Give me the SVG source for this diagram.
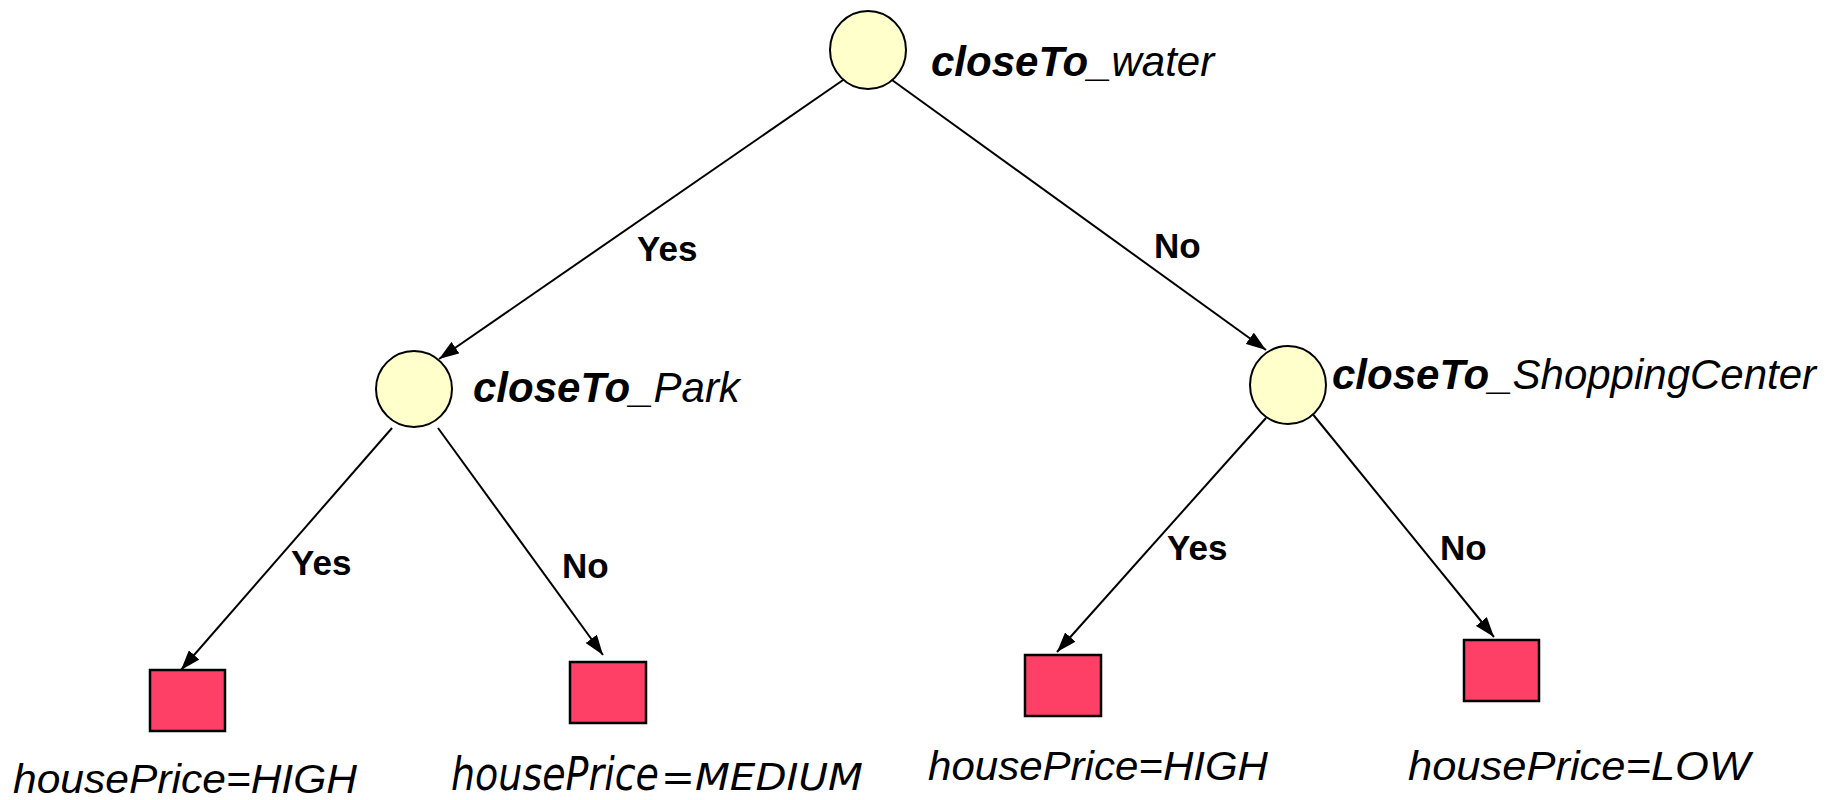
<svg xmlns="http://www.w3.org/2000/svg" width="1847" height="800" viewBox="0 0 1847 800">
  <style>
    .dec { fill: #FFFFCC; stroke: #000; stroke-width: 2; }
    .leaf { fill: #FF4066; stroke: #000; stroke-width: 2.5; }
    .edge { stroke: #000; stroke-width: 2; fill: none; marker-end: url(#arrow); }
    .lbl { font-family: "Liberation Sans", Arial, sans-serif; font-weight: bold; font-size: 35px; fill: #000; }
    .name { font-family: "Liberation Sans", Arial, sans-serif; font-style: italic; font-size: 42px; fill: #000; }
    .name .b { font-weight: bold; }
    .res { font-family: "Liberation Sans", Arial, sans-serif; font-style: italic; font-size: 41px; fill: #000; }
    .res2 { font-family: "DejaVu Sans", sans-serif; font-style: italic; fill: #000; }
  </style>
  <defs>
    <marker id="arrow" viewBox="0 0 20 14" refX="20" refY="7" markerWidth="20" markerHeight="14" markerUnits="userSpaceOnUse" orient="auto">
      <path d="M0,0 L20,7 L0,14 z" fill="#000"/>
    </marker>
  </defs>
  <rect width="1847" height="800" fill="#fff"/>

  <g id="connectors">
    <line class="edge" x1="846" y1="78" x2="439" y2="359"/>
    <line class="edge" x1="892" y1="80" x2="1266" y2="350"/>
    <line class="edge" x1="392" y1="428" x2="181" y2="670"/>
    <line class="edge" x1="438" y1="428" x2="603" y2="655"/>
    <line class="edge" x1="1266" y1="418" x2="1057" y2="652"/>
    <line class="edge" x1="1311" y1="412" x2="1494" y2="637"/>
    <text class="lbl" x="637" y="261">Yes</text>
    <text class="lbl" x="1154" y="258">No</text>
    <text class="lbl" x="291" y="575">Yes</text>
    <text class="lbl" x="562" y="578">No</text>
    <text class="lbl" x="1167" y="560">Yes</text>
    <text class="lbl" x="1440" y="560">No</text>
  </g>

  <g id="node-water">
    <ellipse class="dec" cx="868" cy="50" rx="38" ry="39"/>
    <text class="name" x="931" y="76"><tspan class="b">closeTo</tspan>_water</text>
  </g>
  <g id="node-park">
    <ellipse class="dec" cx="414" cy="389" rx="38" ry="38"/>
    <text class="name" x="473" y="402"><tspan class="b">closeTo</tspan>_Park</text>
  </g>
  <g id="node-shopping">
    <ellipse class="dec" cx="1288" cy="385" rx="38" ry="39"/>
    <text class="name" x="1332" y="389"><tspan class="b">closeTo</tspan>_ShoppingCenter</text>
  </g>

  <g id="leaf-high-1">
    <rect class="leaf" x="150" y="670" width="75" height="61"/>
    <text class="res" x="13" y="793" textLength="344" lengthAdjust="spacingAndGlyphs">housePrice=HIGH</text>
  </g>
  <g id="leaf-medium">
    <rect class="leaf" x="570" y="662" width="76" height="61"/>
    <text class="res2" x="451" y="790"><tspan font-size="46" textLength="208" lengthAdjust="spacingAndGlyphs">housePrice</tspan><tspan font-size="37" dx="2" textLength="202" lengthAdjust="spacingAndGlyphs">=MEDIUM</tspan></text>
  </g>
  <g id="leaf-high-2">
    <rect class="leaf" x="1025" y="655" width="76" height="61"/>
    <text class="res" x="928" y="780" textLength="340" lengthAdjust="spacingAndGlyphs">housePrice=HIGH</text>
  </g>
  <g id="leaf-low">
    <rect class="leaf" x="1464" y="640" width="75" height="61"/>
    <text class="res" x="1408" y="780" textLength="342" lengthAdjust="spacingAndGlyphs">housePrice=LOW</text>
  </g>
</svg>
